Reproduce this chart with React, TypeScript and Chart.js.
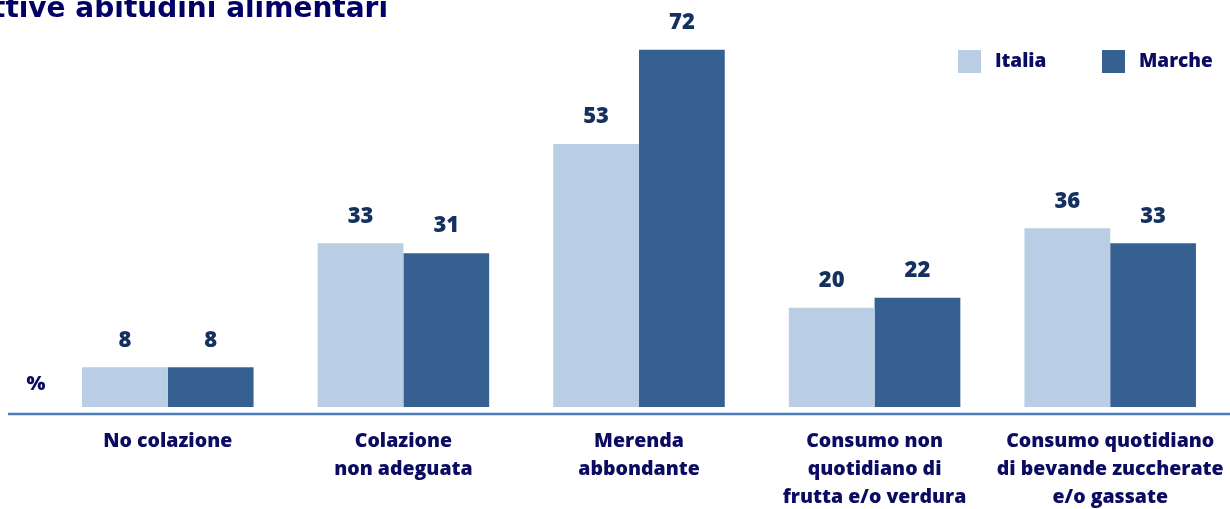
import React, { useEffect, useRef } from "react";
import { Chart, registerables } from "chart.js";

Chart.register(...registerables);

const TITLE = "Cattive abitudini alimentari";
const CATEGORIES: string[][] = [
  ["No colazione"],
  ["Colazione", "non adeguata"],
  ["Merenda", "abbondante"],
  ["Consumo non", "quotidiano di", "frutta e/o verdura"],
  ["Consumo quotidiano", "di bevande zuccherate", "e/o gassate"],
];
const SERIES_NAMES = ["Italia", "Marche"];
const ITALIA = [8, 33, 53, 20, 36];
const MARCHE = [8, 31, 72, 22, 33];
const COLORS = ["#b9cde5", "#376092"];
const TEXT = "#0b0b62";
const VALUE_TEXT = "#14305e";
const AXIS_LINE = "#4a7ebb";
const FONT = "'Open Sans', Lato, sans-serif";

const decorPlugin = {
  id: "decor",
  afterDraw(chart: any) {
    const ctx = chart.ctx;
    ctx.save();
    // title (clipped at left, as in the source)
    ctx.fillStyle = "#000066";
    ctx.font = "bold 28px 'DejaVu Sans', sans-serif";
    ctx.textAlign = "right";
    ctx.textBaseline = "alphabetic";
    ctx.fillText(TITLE, 388, 17);

    // axis line
    ctx.strokeStyle = AXIS_LINE;
    ctx.lineWidth = 2.5;
    ctx.beginPath();
    ctx.moveTo(8, 414);
    ctx.lineTo(1230, 414);
    ctx.stroke();

    // % label
    ctx.fillStyle = TEXT;
    ctx.font = `800 20px ${FONT}`;
    ctx.textAlign = "center";
    ctx.textBaseline = "middle";
    ctx.fillText("%", 36, 384);

    // legend
    const items = [
      { x: 958, label: SERIES_NAMES[0], color: COLORS[0] },
      { x: 1102, label: SERIES_NAMES[1], color: COLORS[1] },
    ];
    items.forEach((it) => {
      ctx.fillStyle = it.color;
      ctx.fillRect(it.x, 50, 23, 23);
      ctx.fillStyle = TEXT;
      ctx.font = `800 19px ${FONT}`;
      ctx.textAlign = "left";
      ctx.textBaseline = "middle";
      ctx.fillText(it.label, it.x + 37, 62);
    });

    // value labels
    ctx.fillStyle = VALUE_TEXT;
    ctx.font = `800 22px ${FONT}`;
    ctx.textAlign = "center";
    ctx.textBaseline = "middle";
    chart.data.datasets.forEach((ds: any, di: number) => {
      const meta = chart.getDatasetMeta(di);
      meta.data.forEach((bar: any, i: number) => {
        ctx.fillText(String(ds.data[i]), bar.x, bar.y - 27);
      });
    });
    ctx.restore();
  },
};

export default function App() {
  const ref = useRef<HTMLCanvasElement | null>(null);
  useEffect(() => {
    if (!ref.current) return;
    const chart = new Chart(ref.current, {
      type: "bar",
      data: {
        labels: CATEGORIES,
        datasets: [
          { label: SERIES_NAMES[0], data: ITALIA, backgroundColor: COLORS[0], borderWidth: 0 },
          { label: SERIES_NAMES[1], data: MARCHE, backgroundColor: COLORS[1], borderWidth: 0 },
        ],
      },
      options: {
        animation: false,
        responsive: false,
        maintainAspectRatio: false,
        layout: { padding: { left: 50, right: 2, top: 10, bottom: 0 } },
        datasets: { bar: { barPercentage: 1, categoryPercentage: 0.728 } },
        plugins: { legend: { display: false }, tooltip: { enabled: false }, title: { display: false } },
        scales: {
          x: {
            grid: { display: false, drawTicks: false },
            border: { display: false },
            ticks: {
              color: TEXT,
              autoSkip: false,
              maxRotation: 0,
              padding: 20,
              font: { family: FONT, size: 19.5, weight: "800", lineHeight: 28 / 19.5 },
            },
            afterFit: (scale: any) => {
              scale.height = 102;
              scale.paddingLeft = 0;
              scale.paddingRight = 0;
            },
          },
          y: { display: false, min: 0, max: 80 },
        },
      },
      plugins: [decorPlugin],
    });
    return () => chart.destroy();
  }, []);
  return (
    <div style={{ position: "absolute", left: 0, top: 0, width: 1230, height: 509, background: "#fff" }}>
      <canvas ref={ref} width={1230} height={509} />
    </div>
  );
}
